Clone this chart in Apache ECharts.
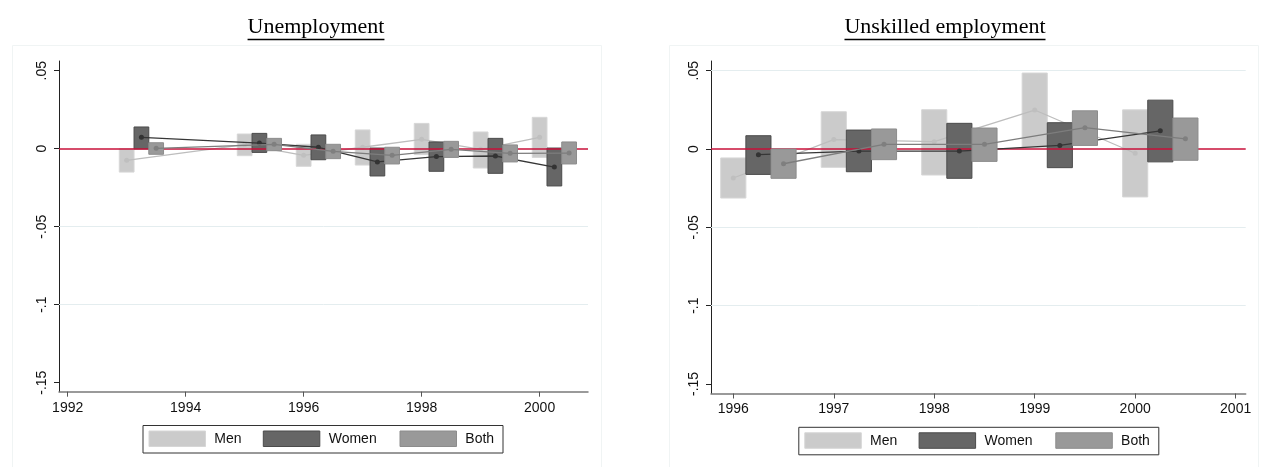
<!DOCTYPE html>
<html><head><meta charset="utf-8">
<script src="https://cdn.jsdelivr.net/npm/echarts@6/dist/echarts.min.js"></script>
<style>html,body{margin:0;padding:0;background:#fff;}#c{width:1261px;height:467px;}</style>
</head><body><div id="c"></div>
<script>
// ---------- DATA ----------
const groupNames = ['Men', 'Women', 'Both'];
const yTickValues = [-0.15, -0.1, -0.05, 0, 0.05];
const yTickLabels = ['-.15', '-.1', '-.05', '0', '.05'];

// Panel 1: Unemployment
const unempTitle = 'Unemployment';
const unempYears = [1993, 1995, 1996, 1997, 1998, 1999, 2000];
const unempXTicks = [1992, 1994, 1996, 1998, 2000];
const unempMenEst = [-0.0075, 0.0026, -0.0043, 0.0009, 0.0060, -0.0004, 0.0073];
const unempMenLo = [-0.0150, -0.0045, -0.0113, -0.0105, -0.0038, -0.0124, -0.0056];
const unempMenHi = [0.0000, 0.0094, 0.0028, 0.0120, 0.0162, 0.0107, 0.0201];
const unempWomenEst = [0.0073, 0.0036, 0.0009, -0.0085, -0.0051, -0.0047, -0.0118];
const unempWomenLo = [-0.0002, -0.0024, -0.0071, -0.0175, -0.0145, -0.0158, -0.0239];
const unempWomenHi = [0.0139, 0.0098, 0.0088, 0.0004, 0.0043, 0.0066, 0.0004];
const unempBothEst = [0.0002, 0.0028, -0.0017, -0.0043, -0.0004, -0.0030, -0.0028];
const unempBothLo = [-0.0036, -0.0013, -0.0064, -0.0098, -0.0056, -0.0085, -0.0098];
const unempBothHi = [0.0038, 0.0066, 0.0028, 0.0009, 0.0047, 0.0024, 0.0043];

// Panel 2: Unskilled employment
const unskTitle = 'Unskilled employment';
const unskYears = [1996, 1997, 1998, 1999, 2000];
const unskXTicks = [1996, 1997, 1998, 1999, 2000, 2001];
const unskMenEst = [-0.0185, 0.0060, 0.0047, 0.0249, -0.0027];
const unskMenLo = [-0.0313, -0.0117, -0.0166, 0.0012, -0.0306];
const unskMenHi = [-0.0057, 0.0238, 0.0251, 0.0485, 0.0250];
const unskWomenEst = [-0.0036, -0.0013, -0.0013, 0.0023, 0.0116];
const unskWomenLo = [-0.0162, -0.0145, -0.0187, -0.0119, -0.0082];
const unskWomenHi = [0.0085, 0.0121, 0.0164, 0.0168, 0.0312];
const unskBothEst = [-0.0094, 0.0030, 0.0030, 0.0136, 0.0065];
const unskBothLo = [-0.0187, -0.0068, -0.0079, 0.0023, -0.0072];
const unskBothHi = [0.0000, 0.0128, 0.0134, 0.0244, 0.0198];

// ---------- STYLE ----------
const FONT = '"Liberation Sans", Arial, sans-serif';
const styles = {
  Men:   {fill: '#cbcbcb', stroke: '#d6d6d6', line: '#bdbdbd', dot: '#bfbfbf', offset: 0},
  Women: {fill: '#666666', stroke: '#4b4b4b', line: '#363636', dot: '#333333', offset: 0.25},
  Both:  {fill: '#999999', stroke: '#8c8c8c', line: '#7d7d7d', dot: '#7f7f7f', offset: 0.5}
};
const BOXW = 0.25;

const panels = [
  {title: unempTitle, years: unempYears, xTicks: unempXTicks,
   est: {Men: unempMenEst, Women: unempWomenEst, Both: unempBothEst},
   lo: {Men: unempMenLo, Women: unempWomenLo, Both: unempBothLo},
   hi: {Men: unempMenHi, Women: unempWomenHi, Both: unempBothHi},
   grid: {left: 59, top: 61, width: 529, height: 330.7},
   xMin: 1991.853, xMax: 2000.82, yMin: -0.1558, yMax: 0.0562,
   gridLines: [-0.05, -0.1], titleX: 316, legendX: 142.5, legendY: 425},
  {title: unskTitle, years: unskYears, xTicks: unskXTicks,
   est: {Men: unskMenEst, Women: unskWomenEst, Both: unskBothEst},
   lo: {Men: unskMenLo, Women: unskWomenLo, Both: unskBothLo},
   hi: {Men: unskMenHi, Women: unskWomenHi, Both: unskBothHi},
   grid: {left: 711, top: 61, width: 534.7, height: 332.5},
   xMin: 1995.778, xMax: 2001.1, yMin: -0.1561, yMax: 0.0562,
   gridLines: [0.05, -0.05, -0.1], titleX: 945, legendX: 798.3, legendY: 426.8}
];

const grids = [], xAxes = [], yAxes = [], series = [], graphics = [];

function measure(text, font) {
  const ctx = document.createElement('canvas').getContext('2d');
  ctx.font = font;
  return ctx.measureText(text).width;
}

panels.forEach((p, i) => {
  grids.push(Object.assign({containLabel: false}, p.grid));
  xAxes.push({
    type: 'value', gridIndex: i, min: p.xMin, max: p.xMax,
    axisLine: {show: true, onZero: false, lineStyle: {color: '#7a7a7a', width: 1.5}},
    axisTick: {show: true, customValues: p.xTicks, length: 5, lineStyle: {color: '#555', width: 1}},
    axisLabel: {customValues: p.xTicks, margin: 9, color: '#111', fontSize: 14, fontFamily: FONT,
                formatter: v => String(v)},
    splitLine: {show: false}
  });
  yAxes.push({
    type: 'value', gridIndex: i, min: p.yMin, max: p.yMax,
    axisLine: {show: true, onZero: false, lineStyle: {color: '#222', width: 1}},
    axisTick: {show: true, customValues: yTickValues, length: 5, lineStyle: {color: '#222'}},
    axisLabel: {customValues: yTickValues, rotate: 90, margin: 10, color: '#111', fontSize: 14, fontFamily: FONT,
                formatter: v => { const k = yTickValues.findIndex(t => Math.abs(t - v) < 1e-9); return k >= 0 ? yTickLabels[k] : ''; }},
    splitLine: {show: false}
  });
  // gridlines + zero line (under marks)
  series.push({
    type: 'line', xAxisIndex: i, yAxisIndex: i, data: [], silent: true, z: 1,
    markLine: {silent: true, symbol: 'none', label: {show: false}, animation: false,
      data: p.gridLines.map(v => ({yAxis: v, lineStyle: {color: '#e4edef', width: 1, type: 'solid'}}))
        .concat([{yAxis: 0, lineStyle: {color: '#c8103a', width: 1.5, type: 'solid'}}])}
  });
  groupNames.forEach((g, gi) => {
    const st = styles[g];
    const boxData = p.years.map((y, k) => [y + st.offset, p.lo[g][k], p.hi[g][k]]);
    series.push({
      type: 'custom', name: g, xAxisIndex: i, yAxisIndex: i, z: 2 + gi * 2,
      data: boxData, silent: true,
      renderItem: (params, api) => {
        const x = api.value(0), lo = api.value(1), hi = api.value(2);
        const a = api.coord([x - BOXW / 2, hi]);
        const b = api.coord([x + BOXW / 2, lo]);
        return {type: 'rect', shape: {x: a[0], y: a[1], width: b[0] - a[0], height: b[1] - a[1]},
                style: {fill: st.fill, stroke: st.stroke, lineWidth: 1}};
      }
    });
    series.push({
      type: 'line', name: g + ' est', xAxisIndex: i, yAxisIndex: i, z: 3 + gi * 2,
      data: p.years.map((y, k) => [y + st.offset, p.est[g][k]]),
      symbol: 'circle', symbolSize: 5, showSymbol: true, silent: true,
      lineStyle: {color: st.line, width: 1.3},
      itemStyle: {color: st.dot, borderWidth: 0}
    });
  });

  // title with underline
  const tfont = '22px "Liberation Serif"';
  const tw = measure(p.title, tfont);
  graphics.push({type: 'text', x: p.titleX, y: 27.5, z: 10,
    style: {text: p.title, font: tfont, fill: '#000', textAlign: 'center', textVerticalAlign: 'middle'}});
  graphics.push({type: 'line', z: 10, shape: {x1: p.titleX - tw / 2, y1: 39.5, x2: p.titleX + tw / 2, y2: 39.5},
    style: {stroke: '#000', lineWidth: 1.3}});

  // faint graph-region border
  const rx = i === 0 ? 12 : 669;
  graphics.push({type: 'rect', z: 0, shape: {x: rx + 0.5, y: 45.5, width: 589, height: 440},
    style: {fill: 'none', stroke: '#f0f4f4', lineWidth: 1}});

  // legend
  const lx = p.legendX, ly = p.legendY;
  graphics.push({type: 'rect', z: 10, shape: {x: lx + 0.5, y: ly + 0.5, width: 360, height: 27.5},
    style: {fill: '#fff', stroke: '#333', lineWidth: 1}});
  const swX = [6.5, 120.8, 257.5], txX = [71.8, 186.2, 322.8];
  groupNames.forEach((g, gi) => {
    const st = styles[g];
    graphics.push({type: 'rect', z: 11, shape: {x: lx + swX[gi], y: ly + 6, width: 56.5, height: 15.5},
      style: {fill: st.fill, stroke: st.stroke, lineWidth: 1}});
    graphics.push({type: 'text', z: 11, x: lx + txX[gi], y: ly + 14.3,
      style: {text: g, font: '14px "Liberation Sans"', fill: '#111', textAlign: 'left', textVerticalAlign: 'middle'}});
  });
});

const chart = echarts.init(document.getElementById('c'), null, {renderer: 'canvas'});
chart.setOption({
  animation: false,
  backgroundColor: '#ffffff',
  grid: grids, xAxis: xAxes, yAxis: yAxes, series: series, graphic: graphics
});
</script></body></html>
